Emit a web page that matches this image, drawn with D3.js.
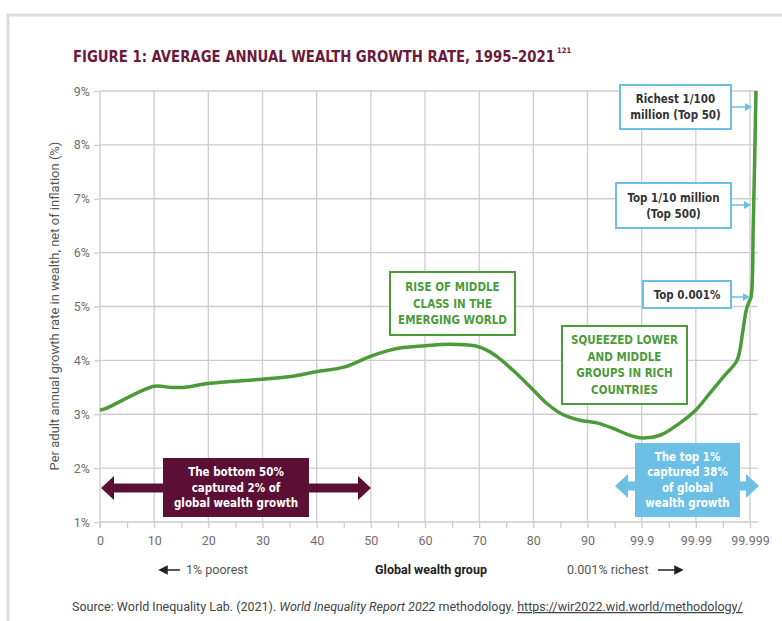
<!DOCTYPE html>
<html>
<head>
<meta charset="utf-8">
<script src="https://cdn.jsdelivr.net/npm/d3@7"></script>
<style>
  body { margin: 0; background: #fff; }
  svg { display: block; }
</style>
</head>
<body>
<div id="wrapper"></div>
<script>
// tick labels on the x axis (wealth group percentiles, equally spaced)
const groupLabels = ["0", "10", "20", "30", "40", "50", "60", "70", "80", "90", "99.9", "99.99", "99.999"];
const yTicks = [1, 2, 3, 4, 5, 6, 7, 8, 9];

// curve: position along the axis (in group steps) and growth rate %
const groupPos = [0, 0.09, 1.0, 1.29, 1.57, 1.99, 2.99, 3.51, 3.99, 4.52, 4.98, 5.32, 5.54, 6.0, 6.46, 6.92,
  7.14, 7.33, 7.62, 7.94, 8.25, 8.55, 8.86, 9.17, 9.47, 9.78, 10.0, 10.34, 10.71, 11.0, 11.26, 11.54, 11.76,
  11.87, 11.93, 11.98, 12.02, 12.06, 12.11];
const growth = [3.08, 3.1, 3.52, 3.5, 3.5, 3.57, 3.65, 3.7, 3.79, 3.88, 4.07, 4.18, 4.23, 4.27, 4.3, 4.27,
  4.19, 4.07, 3.82, 3.51, 3.2, 2.99, 2.89, 2.84, 2.74, 2.61, 2.56, 2.61, 2.84, 3.08, 3.39, 3.73, 4.0,
  4.56, 4.93, 5.08, 5.18, 6.5, 9.0];

const green = "#4b9b3a";
const maroon = "#5c0f35";
const blue = "#6cc0e5";
const grid = "#cdcdcd";

const dimensions = {
  width: 782,
  height: 621,
  margins: { top: 91, right: 32, bottom: 99, left: 100 }
};

const svg = d3.select("#wrapper")
  .append("svg")
  .attr("width", dimensions.width)
  .attr("height", dimensions.height);

// outer frame
svg.append("path")
  .attr("d", "M8,625 L8,15 L790,15")
  .attr("fill", "none")
  .attr("stroke", "#dcdcdc")
  .attr("stroke-width", 3);

svg.append("text")
  .attr("x", 73)
  .attr("y", 62)
  .attr("fill", "#6b1a3c")
  .style("font-family", "'DejaVu Sans Condensed', 'DejaVu Sans'")
  .style("font-weight", "bold")
  .style("font-size", "16px")
  .attr("textLength", 482)
  .attr("lengthAdjust", "spacingAndGlyphs")
  .text("FIGURE 1: AVERAGE ANNUAL WEALTH GROWTH RATE, 1995\u20132021");
svg.append("text")
  .attr("x", 557)
  .attr("y", 53)
  .attr("fill", "#6b1a3c")
  .style("font-family", "'DejaVu Sans Condensed', 'DejaVu Sans'")
  .style("font-weight", "bold")
  .style("font-size", "7.5px")
  .text("121");

const xScale = d3.scaleLinear().domain([0, 12]).range([100, 750]);
const yScale = d3.scaleLinear().domain([1, 9]).range([522, 91]);

// grid
const gridG = svg.append("g");
gridG.selectAll(".vg")
  .data(d3.range(1, 13))
  .join("line")
  .attr("x1", d => xScale(d)).attr("x2", d => xScale(d))
  .attr("y1", yScale(9)).attr("y2", yScale(1))
  .attr("stroke", grid).attr("stroke-width", 1.3);
gridG.selectAll(".hg")
  .data(yTicks.slice(1))
  .join("line")
  .attr("x1", xScale(0)).attr("x2", 758)
  .attr("y1", d => yScale(d)).attr("y2", d => yScale(d))
  .attr("stroke", grid).attr("stroke-width", 1.3);

// axes
const xAxis = svg.append("g")
  .attr("transform", `translate(0, ${yScale(1)})`)
  .call(d3.axisBottom(xScale)
    .tickValues(d3.range(0, 12.5, 0.5))
    .tickSize(6)
    .tickPadding(8)
    .tickFormat(d => Number.isInteger(d) ? groupLabels[d] : ""));
xAxis.select(".domain").attr("stroke", grid).attr("stroke-width", 1.3).attr("d", "M100,0H758");

const yAxis = svg.append("g")
  .attr("transform", `translate(${xScale(0)}, 0)`)
  .call(d3.axisLeft(yScale).tickValues(yTicks).tickSize(6).tickPadding(4).tickFormat(d => d + "%"));
yAxis.select(".domain").attr("stroke", grid).attr("stroke-width", 1.3).attr("d", "M0,91V528");

svg.selectAll(".tick line").attr("stroke", grid).attr("stroke-width", 1.3);
svg.selectAll(".tick text")
  .attr("fill", "#6e6e6e")
  .style("font-family", "Roboto, sans-serif")
  .style("font-size", "12.5px");

// y label
svg.append("text")
  .attr("transform", "translate(59, 306) rotate(-90)")
  .attr("text-anchor", "middle")
  .attr("fill", "#555")
  .style("font-family", "Roboto, sans-serif")
  .style("font-size", "13px")
  .text("Per adult annual growth rate in wealth, net of inflation (%)");

// under-axis labels
const lab = svg.append("g")
  .style("font-family", "Roboto, sans-serif")
  .style("font-size", "12.5px");
lab.append("text").attr("x", 186).attr("y", 574).attr("fill", "#555").text("1% poorest");
lab.append("text").attr("x", 431).attr("y", 574).attr("text-anchor", "middle").attr("fill", "#222")
  .style("font-weight", "bold").text("Global wealth group");
lab.append("text").attr("x", 567).attr("y", 574).attr("fill", "#555").text("0.001% richest");
lab.append("path").attr("d", "M160,570 L167,566.5 L167,573.5 Z M166,570 H180").attr("stroke", "#222").attr("stroke-width", 1.5).attr("fill", "#222");
lab.append("path").attr("d", "M682,570 L675,566.5 L675,573.5 Z M658,570 H676").attr("stroke", "#222").attr("stroke-width", 1.5).attr("fill", "#222");

// source
const src = svg.append("text")
  .attr("x", 72).attr("y", 611)
  .attr("fill", "#444")
  .style("font-family", "Roboto, sans-serif")
  .style("font-size", "12.5px");
src.append("tspan").text("Source: World Inequality Lab. (2021). ");
src.append("tspan").style("font-style", "italic").text("World Inequality Report 2022");
src.append("tspan").text(" methodology. ");
src.append("tspan").style("text-decoration", "underline").text("https://wir2022.wid.world/methodology/");

// curve
const line = d3.line()
  .x((d, i) => xScale(groupPos[i]))
  .y(d => yScale(d))
  .curve(d3.curveCatmullRom.alpha(0.5));
svg.append("path")
  .datum(growth)
  .attr("d", line)
  .attr("fill", "none")
  .attr("stroke", green)
  .attr("stroke-width", 3.5)
  .attr("stroke-linejoin", "round");

// double arrows
function doubleArrow(x1, x2, y, color, shaft, head, headLen) {
  const s = shaft / 2, h = head / 2;
  svg.append("path")
    .attr("d", `M${x1},${y} L${x1 + headLen},${y - h} L${x1 + headLen},${y - s} L${x2 - headLen},${y - s}
      L${x2 - headLen},${y - h} L${x2},${y} L${x2 - headLen},${y + h} L${x2 - headLen},${y + s}
      L${x1 + headLen},${y + s} L${x1 + headLen},${y + h} Z`)
    .attr("fill", color);
}
function box(x, y, w, h, fill, stroke, lines, color, size, lh) {
  svg.append("rect").attr("x", x).attr("y", y).attr("width", w).attr("height", h)
    .attr("fill", fill).attr("stroke", stroke).attr("stroke-width", stroke === "none" ? 0 : 2);
  const t = svg.append("text")
    .attr("text-anchor", "middle")
    .attr("fill", color)
    .style("font-family", "'DejaVu Sans Condensed', 'DejaVu Sans'")
    .style("font-weight", "bold")
    .style("font-size", size + "px");
  const y0 = y + h / 2 - (lines.length - 1) * lh / 2 + size * 0.36;
  lines.forEach((l, i) => t.append("tspan").attr("x", x + w / 2).attr("y", y0 + i * lh).text(l));
}

doubleArrow(101, 371, 488, maroon, 9, 24, 13);
box(163, 458, 146, 59, maroon, "none", ["The bottom 50%", "captured 2% of", "global wealth growth"], "#fff", 11.5, 15.5);

doubleArrow(615, 759, 486, blue, 9, 24, 13);
box(635, 443, 105, 74, blue, "none", ["The top 1%", "captured 38%", "of global", "wealth growth"], "#fff", 11.5, 15.5);

box(390, 272, 125, 63, "#fff", green, ["RISE OF MIDDLE", "CLASS IN THE", "EMERGING WORLD"], green, 11.5, 16.5);
box(562, 326, 125, 78, "#fff", green, ["SQUEEZED LOWER", "AND MIDDLE", "GROUPS IN RICH", "COUNTRIES"], green, 11.5, 16.5);

// callouts for the top groups
function callout(x, y, w, h, lines, tipX, tipY) {
  box(x, y, w, h, "#fff", blue, lines, "#333", 11.5, 16);
  svg.append("line").attr("x1", x + w + 1).attr("x2", tipX - 6).attr("y1", tipY).attr("y2", tipY)
    .attr("stroke", blue).attr("stroke-width", 1.5);
  svg.append("path").attr("d", `M${tipX},${tipY} L${tipX - 7},${tipY - 4} L${tipX - 7},${tipY + 4} Z`).attr("fill", blue);
}
callout(620, 85, 111, 44, ["Richest 1/100", "million (Top 50)"], 752, 107);
callout(616, 183, 115, 45, ["Top 1/10 million", "(Top 500)"], 751, 205);
callout(643, 281, 88, 27, ["Top 0.001%"], 750, 297);
</script>
</body>
</html>
